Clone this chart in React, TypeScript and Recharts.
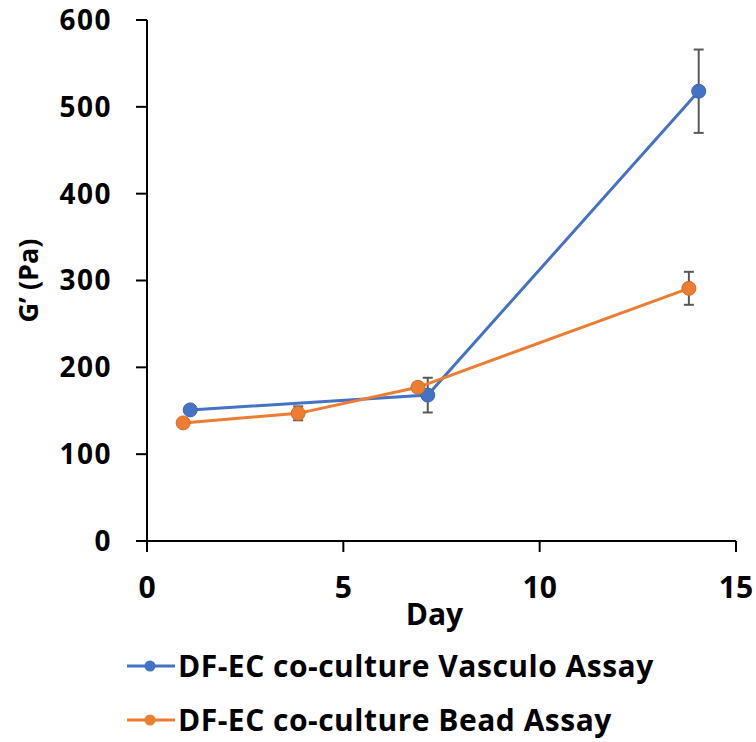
import React from 'react'
import { LineChart, Line, XAxis, YAxis, ErrorBar, Legend } from 'recharts'

document.body.style.margin = '0'

const vascDays = [1.1, 7.15, 14.05]
const vascG = [151, 168, 518]
const vascErr = [4, 20, 48]

const beadDays = [0.92, 3.85, 6.9, 13.8]
const beadG = [136, 147, 177, 291]
const beadErr = [3, 8, 5, 19]

const xTicks = [0, 5, 10, 15]
const yTicks = [0, 100, 200, 300, 400, 500, 600]

const BLUE = '#4472C4'
const ORANGE = '#ED7D31'
const FONT = '"Open Sans", Lato, sans-serif'

const vascData = vascDays.map((x, i) => ({ x, y: vascG[i], err: vascErr[i] }))
const beadData = beadDays.map((x, i) => ({ x, y: beadG[i], err: beadErr[i] }))

const legendItems = [
  { label: 'DF-EC co-culture Vasculo Assay', color: BLUE },
  { label: 'DF-EC co-culture Bead Assay', color: ORANGE },
]

function LegendBox() {
  return (
    <div style={{ fontFamily: FONT, fontSize: 30, fontWeight: 700, color: '#000', lineHeight: '54px', letterSpacing: 0.5 }}>
      {legendItems.map((it) => (
        <div key={it.label} style={{ display: 'flex', alignItems: 'center', height: 54 }}>
          <svg width={48} height={20} style={{ marginRight: 3, flex: 'none' }}>
            <line x1={0} y1={10} x2={48} y2={10} stroke={it.color} strokeWidth={3} />
            <circle cx={23} cy={10} r={5.5} fill={it.color} />
          </svg>
          <span style={{ whiteSpace: 'nowrap' }}>{it.label}</span>
        </div>
      ))}
    </div>
  )
}

const yTickStyle = { fontFamily: FONT, fontSize: 28, fontWeight: 700, fill: '#000', letterSpacing: 1.5 }
const xTickStyle = { fontFamily: FONT, fontSize: 30, fontWeight: 700, fill: '#000' }

export default function App() {
  return (
    <LineChart width={756} height={742} margin={{ top: 20, right: 20, left: 0, bottom: 9 }}>
      <XAxis
        dataKey="x" type="number" domain={[0, 15]} ticks={xTicks}
        allowDataOverflow
        height={84}
        tick={xTickStyle}
        tickSize={11} tickMargin={25}
        axisLine={{ stroke: '#000', strokeWidth: 2 }}
        tickLine={{ stroke: '#000', strokeWidth: 2 }}
        label={{ value: 'Day', position: 'insideBottom', offset: 0, dx: -7, style: { fontFamily: FONT, fontSize: 30, fontWeight: 700, fill: '#000' } }}
      />
      <YAxis
        type="number" domain={[0, 600]} ticks={yTicks}
        allowDataOverflow
        width={147}
        tick={yTickStyle}
        tickSize={11} tickMargin={24}
        axisLine={{ stroke: '#000', strokeWidth: 2 }}
        tickLine={{ stroke: '#000', strokeWidth: 2 }}
        label={{
          value: 'G’ (Pa)',
          angle: -90,
          position: 'insideLeft',
          offset: 28,
          style: { fontFamily: FONT, fontSize: 27, fontWeight: 700, fill: '#000', textAnchor: 'middle' },
        }}
      />
      <Legend
        content={<LegendBox />}
        wrapperStyle={{ position: 'absolute', left: 127, top: 639, width: 625 }}
      />
      <Line
        data={vascData} dataKey="y" name="DF-EC co-culture Vasculo Assay"
        stroke={BLUE} strokeWidth={3}
        dot={{ r: 7, fill: BLUE, stroke: '#3A64B0', strokeWidth: 1 }}
        isAnimationActive={false}
      >
        <ErrorBar dataKey="err" direction="y" width={5} stroke="#595959" strokeWidth={2} />
      </Line>
      <Line
        data={beadData} dataKey="y" name="DF-EC co-culture Bead Assay"
        stroke={ORANGE} strokeWidth={3}
        dot={{ r: 7, fill: ORANGE, stroke: '#D56C25', strokeWidth: 1 }}
        isAnimationActive={false}
      >
        <ErrorBar dataKey="err" direction="y" width={5} stroke="#595959" strokeWidth={2} />
      </Line>
    </LineChart>
  )
}
